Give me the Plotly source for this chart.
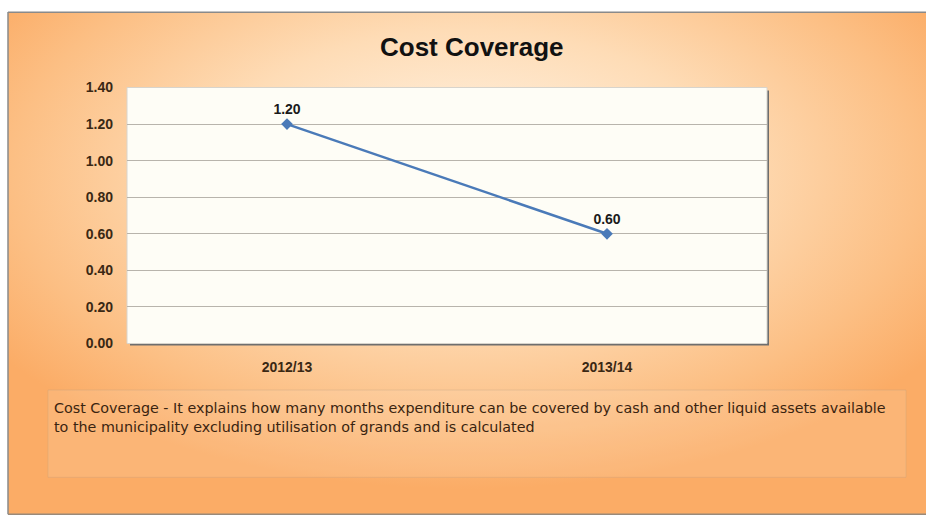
import base64
import plotly.graph_objects as go

# Chart data
periods = ["2012/13", "2013/14"]
cost_coverage = [1.20, 0.60]
y_ticks = [0.0, 0.2, 0.4, 0.6, 0.8, 1.0, 1.2, 1.4]

title_text = "Cost Coverage"
note_text = ("Cost Coverage - It explains how many months expenditure can be covered by cash and other liquid assets available<br>"
             "to the municipality excluding utilisation of grands and is calculated")

W, H = 926, 527

# Orange radial-gradient backdrop as an inline SVG image
svg = f"""<svg xmlns='http://www.w3.org/2000/svg' width='{W}' height='{H}'>
<defs><radialGradient id='g' cx='0.5' cy='0.33' r='0.62' fx='0.5' fy='0.3'>
<stop offset='0' stop-color='#fff4e6'/>
<stop offset='0.45' stop-color='#fedcb6'/>
<stop offset='0.8' stop-color='#fcbf84'/>
<stop offset='1' stop-color='#fbac66'/>
</radialGradient></defs>
<rect width='{W}' height='{H}' fill='url(#g)'/>
</svg>"""
bg_uri = "data:image/svg+xml;base64," + base64.b64encode(svg.encode()).decode()

# Plot-area placement in pixels
px0, px1, py0, py1 = 127, 767, 82, 346


def fx(p):
    return p / W


def fy(p):
    return 1 - p / H


tick_font = dict(family="Liberation Sans", size=14, color="#3a2814", weight="bold")

fig = go.Figure()
fig.add_trace(go.Scatter(
    x=periods, y=cost_coverage,
    mode="lines+markers+text",
    line=dict(color="#4a7ab8", width=2.5),
    marker=dict(symbol="diamond", size=9, color="#4a7ab8"),
    text=[f"{v:.2f}" for v in cost_coverage],
    textposition="top center",
    textfont=dict(family="Liberation Sans", size=14, color="#1a1a1a", weight="bold"),
    cliponaxis=False,
    hoverinfo="skip",
))

shapes = [
    # frame lines
    dict(type="line", xref="paper", yref="paper", x0=fx(8), x1=fx(8), y0=fy(4), y1=fy(522),
         line=dict(color="#8a8a8a", width=1.5)),
    dict(type="line", xref="paper", yref="paper", x0=fx(8), x1=1, y0=fy(4.5), y1=fy(4.5),
         line=dict(color="#8a8a8a", width=1.5)),
    dict(type="line", xref="paper", yref="paper", x0=fx(8), x1=1, y0=fy(522), y1=fy(522),
         line=dict(color="#9a8a7a", width=1.5)),
    # plot-area shadow and fill
    dict(type="rect", xref="paper", yref="paper", layer="below",
         x0=fx(px0 + 3), x1=fx(px1 + 2), y0=fy(py1 + 2), y1=fy(py0 + 3),
         fillcolor="#6e6e6e", line=dict(width=0)),
    dict(type="rect", xref="paper", yref="paper", layer="below",
         x0=fx(px0), x1=fx(px1), y0=fy(py1), y1=fy(py0),
         fillcolor="#fefdf6", line=dict(color="#d8d4cc", width=1)),
    # note box
    dict(type="rect", xref="paper", yref="paper", layer="below",
         x0=fx(48), x1=fx(906), y0=fy(484), y1=fy(394),
         fillcolor="rgba(255,236,212,0.15)", line=dict(color="rgba(190,160,130,0.3)", width=1)),
]

fig.update_layout(
    width=W, height=H,
    margin=dict(l=0, r=0, t=0, b=0),
    paper_bgcolor="white",
    plot_bgcolor="rgba(0,0,0,0)",
    showlegend=False,
    images=[dict(source=bg_uri, xref="paper", yref="paper", x=fx(8), y=fy(5),
                 sizex=1 - fx(8), sizey=fy(5) - fy(522), sizing="stretch",
                 xanchor="left", yanchor="top", layer="below")],
    shapes=shapes,
    xaxis=dict(
        domain=[fx(px0), fx(px1)],
        type="category", range=[-0.5, 1.5],
        showgrid=False, zeroline=False, showline=False,
        ticks="", ticklabelstandoff=14,
        tickfont=tick_font,
    ),
    yaxis=dict(
        domain=[fy(py1), fy(py0)],
        range=[0, 1.4],
        tickvals=y_ticks,
        tickformat=".2f",
        showgrid=True, gridcolor="#b8b4ac", gridwidth=1,
        zeroline=False, showline=False,
        ticks="", ticklabelstandoff=13,
        tickfont=tick_font,
    ),
    annotations=[
        dict(text=f"<b>{title_text}</b>", xref="paper", yref="paper", x=fx(472), y=fy(40),
             xanchor="center", yanchor="middle", showarrow=False,
             font=dict(family="Liberation Sans", size=26, color="#111111")),
        dict(text=note_text, xref="paper", yref="paper", x=fx(52), y=fy(402),
             xanchor="left", yanchor="top", align="left", showarrow=False,
             font=dict(family="DejaVu Sans", size=14.3, color="#3a2410")),
    ],
)

fig.write_html("out.html")
